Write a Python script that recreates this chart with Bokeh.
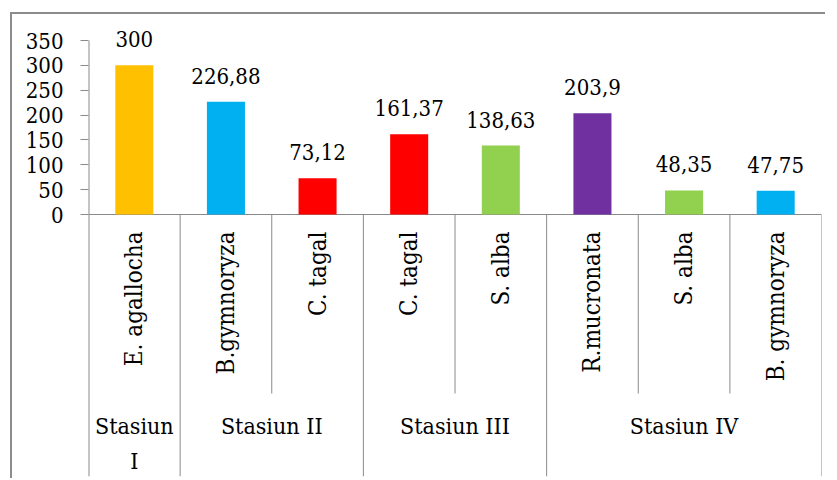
import numpy as np
from bokeh.plotting import figure
from bokeh.models import ColumnDataSource, FixedTicker, Range1d
from bokeh.core.properties import value
from bokeh.embed import file_html
from bokeh.resources import INLINE

# ---- data ----
species = ["E. agallocha", "B.gymnoryza", "C. tagal", "C. tagal", "S. alba",
           "R.mucronata", "S. alba", "B. gymnoryza"]
values = [300, 226.88, 73.12, 161.37, 138.63, 203.9, 48.35, 47.75]
value_labels = ["300", "226,88", "73,12", "161,37", "138,63", "203,9", "48,35", "47,75"]
colors = ["#FFC000", "#00B0F0", "#FF0000", "#FF0000", "#92D050",
          "#7030A0", "#92D050", "#00B0F0"]
stations = ["Stasiun\nI", "Stasiun II", "Stasiun III", "Stasiun IV"]
station_sizes = [1, 2, 2, 3]
y_ticks = [0, 50, 100, 150, 200, 250, 300, 350]

FONT = "DejaVu Serif Condensed"
GRAY = "#8a8a8a"

px_per_unit = 174 / 350
top_pad_px = 14
frame_top = 40 - top_pad_px
frame_w, frame_h = 733, 476 - frame_top
y_axis_top = 350
y_top = y_axis_top + top_pad_px / px_per_unit
y_bottom = -(476 - 214) / px_per_unit

p = figure(output_backend="svg", toolbar_location=None,
           frame_width=frame_w, frame_height=frame_h,
           min_border_left=76, min_border_top=frame_top - 14, min_border_right=4,
           min_border_bottom=2,
           x_range=Range1d(0, len(species)), y_range=Range1d(y_bottom, y_top),
           tools="")
p.styles = {"border-left": "2px solid #8c8c8c", "border-top": "2px solid #8c8c8c",
            "margin-left": "10px", "margin-top": "12px"}
p.outline_line_color = None
p.xgrid.visible = False
p.ygrid.visible = False
p.xaxis.visible = False

ya = p.yaxis[0]
ya.ticker = FixedTicker(ticks=y_ticks)
ya.minor_tick_line_color = None
ya.major_tick_in = 0
ya.major_tick_out = 8
ya.axis_line_color = None
ya.major_tick_line_color = GRAY
ya.major_label_standoff = 17
ya.major_label_text_font = FONT
ya.major_label_text_font_size = "22px"
ya.major_label_text_color = "black"

x = [i + 0.5 for i in range(len(species))]
src = ColumnDataSource(dict(x=x, top=values, lab=value_labels, color=colors, sp=species))

p.segment(x0=[0], y0=[y_axis_top], x1=[0], y1=[y_bottom], line_color=GRAY, line_width=2)
p.segment(x0=[0], y0=[0], x1=[len(species)], y1=[0], line_color=GRAY, line_width=1)

bounds = np.concatenate([[0], np.cumsum(station_sizes)])
grp_x = [float(b) for b in bounds[1:]]
p.segment(x0=grp_x, y0=[0] * len(grp_x), x1=grp_x, y1=[y_bottom] * len(grp_x),
          line_color=GRAY, line_width=1)
inner_x = [float(b) for b in range(1, len(species)) if b not in set(bounds)]
sep_end = -(393 - 214) / px_per_unit
p.segment(x0=inner_x, y0=[0] * len(inner_x), x1=inner_x, y1=[sep_end] * len(inner_x),
          line_color=GRAY, line_width=1)

p.vbar(x="x", top="top", bottom=0, width=0.415, fill_color="color", line_color=None, source=src)

p.text(x="x", y="top", text="lab", source=src, text_align="center",
       text_baseline="alphabetic", y_offset=-26, text_font=value(FONT),
       text_font_size="22px", text_color="black")

p.text(x="x", y=-(231 - 214) / px_per_unit, text="sp", source=src, angle=np.pi / 2,
       text_align="right", text_baseline="middle", text_font=value(FONT),
       text_font_size="24px", text_color="black")

st_x = [(bounds[i] + bounds[i + 1]) / 2 for i in range(len(stations))]
p.text(x=st_x, y=[-(412 - 214) / px_per_unit] * len(stations), text=stations,
       text_align="center", text_baseline="top", text_font=value(FONT),
       text_font_size="23px", text_color="black", text_line_height=1.35)

open("out.html", "w").write(file_html(p, INLINE))
